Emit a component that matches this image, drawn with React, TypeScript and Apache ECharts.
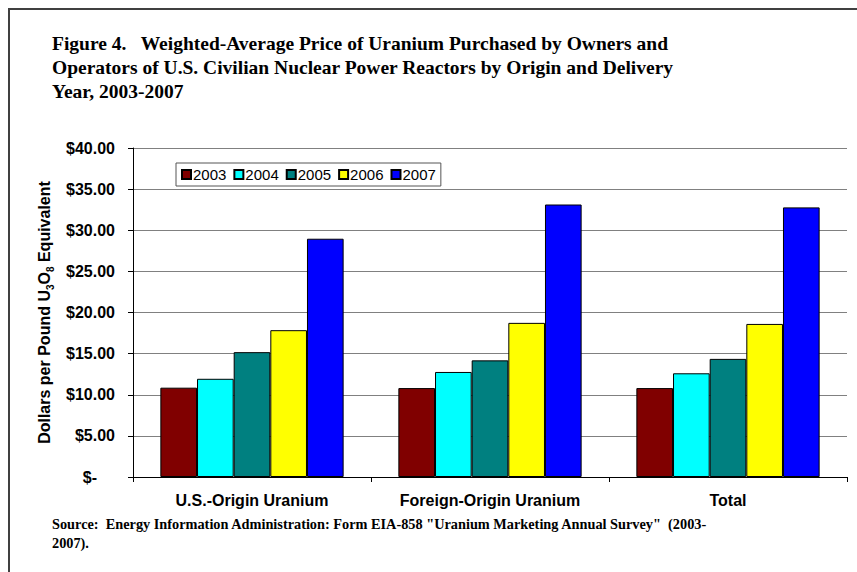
import React, { useEffect, useRef } from "react";
import * as echarts from "echarts";

const categories = ["U.S.-Origin Uranium", "Foreign-Origin Uranium", "Total"];
const years = ["2003", "2004", "2005", "2006", "2007"];
const colors = ["#800000", "#00FFFF", "#008080", "#FFFF00", "#0000FF"];
const v2003 = [10.86, 10.81, 10.81];
const v2004 = [11.94, 12.77, 12.61];
const v2005 = [15.18, 14.18, 14.36];
const v2006 = [17.85, 18.74, 18.61];
const v2007 = [28.97, 33.13, 32.78];
const seriesValues = [v2003, v2004, v2005, v2006, v2007];
const titleLines = [
  "Figure 4.   Weighted-Average Price of Uranium Purchased by Owners and",
  "Operators of U.S. Civilian Nuclear Power Reactors by Origin and Delivery",
  "Year, 2003-2007",
];
const sourceLines = [
  'Source:  Energy Information Administration: Form EIA-858 "Uranium Marketing Annual Survey"  (2003-',
  "2007).",
];

export default function App() {
  const ref = useRef<HTMLDivElement>(null);
  useEffect(() => {
    if (!ref.current) return;
    const chart = echarts.init(ref.current, null, { renderer: "svg" });
    const serif = "'Liberation Serif', 'Times New Roman', serif";
    const sans = "'Liberation Sans', Arial, sans-serif";
    chart.setOption({
      animation: false,
      backgroundColor: "#ffffff",
      graphic: [
        {
          type: "rect",
          shape: { x: 9, y: 9, width: 900, height: 700 },
          style: { fill: "none", stroke: "#404040", lineWidth: 2 },
          silent: true,
        },
        ...titleLines.map((t, i) => ({
          type: "text",
          x: 52,
          y: 43 + i * 24,
          style: {
            text: t,
            font: `bold 19.5px ${serif}`,
            fill: "#000",
            verticalAlign: "middle",
          },
        })),
        ...sourceLines.map((t, i) => ({
          type: "text",
          x: 52,
          y: 524 + i * 19,
          style: {
            text: t,
            font: `bold 14.3px ${serif}`,
            fill: "#000",
            verticalAlign: "middle",
          },
        })),
      ],
      legend: {
        data: years,
        left: 176,
        top: 163,
        orient: "horizontal",
        itemWidth: 9,
        itemHeight: 9,
        itemGap: 7,
        padding: [4, 5, 4, 5],
        borderColor: "#555",
        borderWidth: 1,
        icon: "rect",
        textStyle: { fontFamily: sans, fontSize: 15, color: "#000", padding: [0, 0, 0, -3] },
      },
      grid: { left: 133, right: 10, top: 148, bottom: 95, containLabel: false },
      xAxis: {
        type: "category",
        data: categories,
        axisLine: { lineStyle: { color: "#000", width: 1 } },
        axisTick: { show: true, length: 5, lineStyle: { color: "#000" } },
        axisLabel: {
          fontFamily: sans,
          fontSize: 16,
          fontWeight: "bold",
          color: "#000",
          margin: 15,
        },
      },
      yAxis: {
        type: "value",
        min: 0,
        max: 40,
        interval: 5,
        name: "{a|Dollars per Pound U}{s|3}{a|O}{s|8}{a| Equivalent}",
        nameLocation: "middle",
        nameGap: 80,
        nameTextStyle: {
          rich: {
            a: { fontFamily: sans, fontSize: 16, fontWeight: "bold", color: "#000", lineHeight: 20, verticalAlign: "bottom" },
            s: { fontFamily: sans, fontSize: 10, fontWeight: "bold", color: "#000", lineHeight: 20, verticalAlign: "bottom", padding: [0, 0, -3, 0] },
          },
        },
        axisLine: { show: true, lineStyle: { color: "#000", width: 1 } },
        axisTick: { show: true, length: 5, lineStyle: { color: "#000" } },
        splitLine: { show: true, lineStyle: { color: "#808080", width: 1 } },
        axisLabel: {
          fontFamily: sans,
          fontSize: 16,
          fontWeight: "bold",
          color: "#000",
          margin: 18,
          formatter: (v: number) => (v === 0 ? "{z|$-}" : "$" + v.toFixed(2)),
          rich: {
            z: { fontFamily: sans, fontSize: 16, fontWeight: "bold", color: "#000", padding: [0, 18, 0, 0] },
          },
        },
      },
      series: years.map((y, i) => ({
        name: y,
        type: "bar",
        data: seriesValues[i],
        barGap: "0%",
        barCategoryGap: "23%",
        itemStyle: { color: colors[i], borderColor: "#000", borderWidth: 1 },
      })),
    });
    return () => chart.dispose();
  }, []);
  return (
    <div
      ref={ref}
      style={{ position: "fixed", left: 0, top: 0, width: 857, height: 572 }}
    />
  );
}
